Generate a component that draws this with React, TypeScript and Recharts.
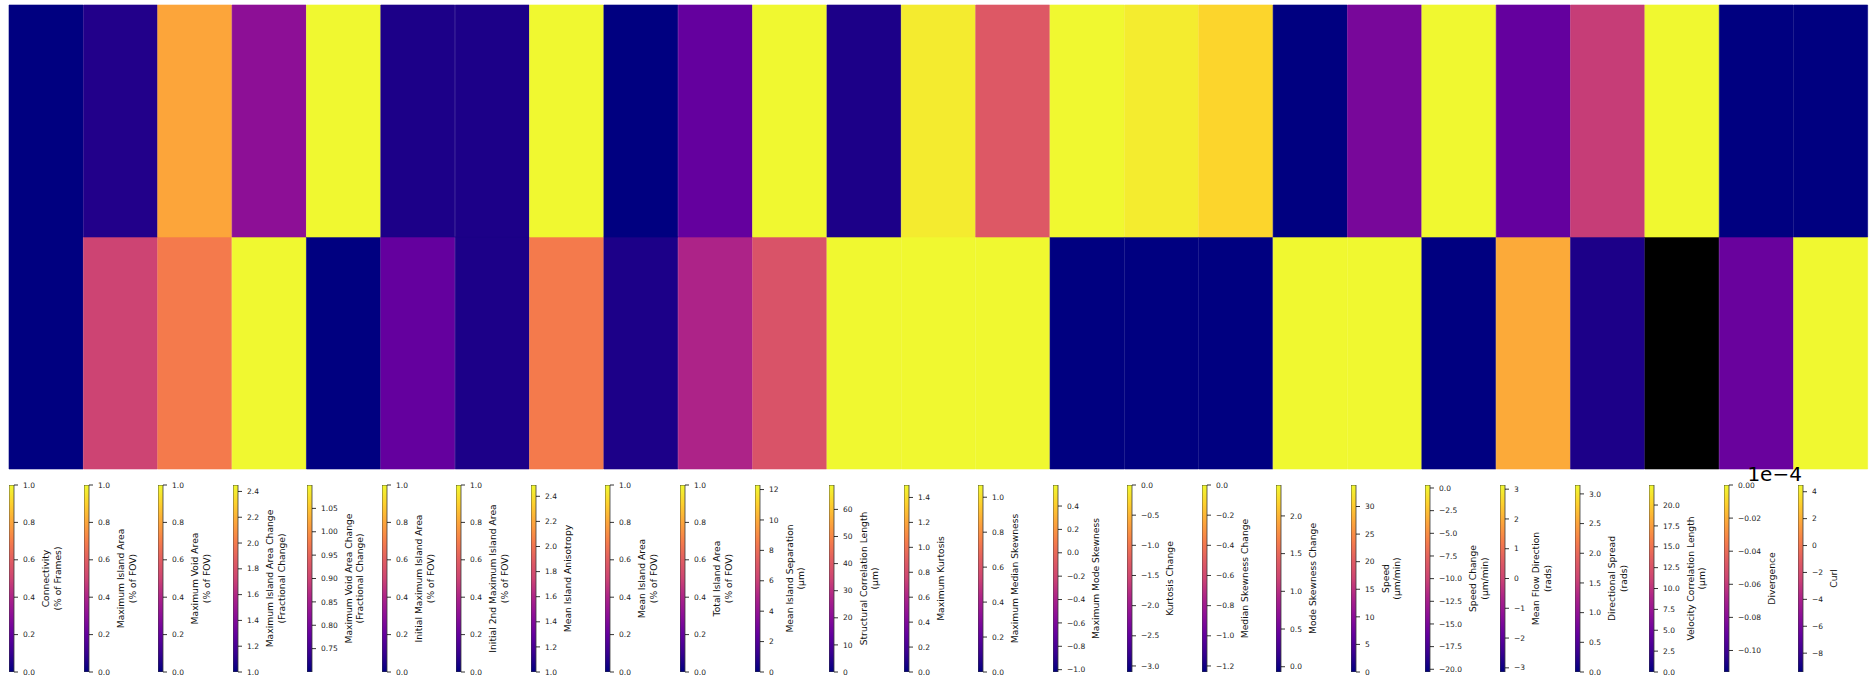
import { BarChart, ComposedChart, Bar, Cell, XAxis, YAxis } from 'recharts';

// Metric names (one column each), "\n" splits the colorbar label in two lines
const metricLabels = [
  'Connectivity\n(% of Frames)',
  'Maximum Island Area\n(% of FOV)',
  'Maximum Void Area\n(% of FOV)',
  'Maximum Island Area Change\n(Fractional Change)',
  'Maximum Void Area Change\n(Fractional Change)',
  'Initial Maximum Island Area\n(% of FOV)',
  'Initial 2nd Maximum Island Area\n(% of FOV)',
  'Mean Island Anisotropy',
  'Mean Island Area\n(% of FOV)',
  'Total Island Area\n(% of FOV)',
  'Mean Island Separation\n(µm)',
  'Structural Correlation Length\n(µm)',
  'Maximum Kurtosis',
  'Maximum Median Skewness',
  'Maximum Mode Skewness',
  'Kurtosis Change',
  'Median Skewness Change',
  'Mode Skewness Change',
  'Speed\n(µm/min)',
  'Speed Change\n(µm/min)',
  'Mean Flow Direction\n(rads)',
  'Directional Spread\n(rads)',
  'Velocity Correlation Length\n(µm)',
  'Divergence',
  'Curl',
];

// colour range of every column (colorbar limits)
const rangeMin = [0, 0, 0, 1.0, 0.70, 0, 0, 1.0, 0, 0, 0, 0, 0, 0, -1.02, -3.1, -1.24, -0.07, 0, -20.3, -3.14, 0, 0, -0.113, -9.4];
const rangeMax = [1, 1, 1, 2.45, 1.10, 1, 1, 2.49, 1, 1, 12.3, 69, 1.5, 1.07, 0.58, 0, 0, 2.41, 33.9, 0.33, 3.14, 3.15, 22.4, 0, 4.5];

// heatmap rows
const topRow = [0.0, 0.06, 0.8, 1.44, 1.10, 0.05, 0.05, 2.49, 0.0, 0.2, 12.3, 3.5, 1.45, 0.62, 0.58, -0.09, -0.11, -0.07, 8.5, 0.33, -1.88, 1.51, 22.4, -0.113, -9.4];
const bottomRow: (number | null)[] = [0.0, 0.5, 0.69, 2.45, 0.70, 0.2, 0.05, 2.03, 0.05, 0.4, 6.9, 69, 1.5, 1.07, -1.02, -3.1, -1.24, 2.41, 33.9, -20.3, 1.95, 0.16, null, -0.089, 4.5];

// colorbar ticks
const unitTicks = [0, 0.2, 0.4, 0.6, 0.8, 1.0];
const tickLists = [
  unitTicks,
  unitTicks,
  unitTicks,
  [1.0, 1.2, 1.4, 1.6, 1.8, 2.0, 2.2, 2.4],
  [0.75, 0.8, 0.85, 0.9, 0.95, 1.0, 1.05],
  unitTicks,
  unitTicks,
  [1.0, 1.2, 1.4, 1.6, 1.8, 2.0, 2.2, 2.4],
  unitTicks,
  unitTicks,
  [0, 2, 4, 6, 8, 10, 12],
  [0, 10, 20, 30, 40, 50, 60],
  [0, 0.2, 0.4, 0.6, 0.8, 1.0, 1.2, 1.4],
  [0, 0.2, 0.4, 0.6, 0.8, 1.0],
  [-1.0, -0.8, -0.6, -0.4, -0.2, 0, 0.2, 0.4],
  [-3.0, -2.5, -2.0, -1.5, -1.0, -0.5, 0],
  [-1.2, -1.0, -0.8, -0.6, -0.4, -0.2, 0],
  [0, 0.5, 1.0, 1.5, 2.0],
  [0, 5, 10, 15, 20, 25, 30],
  [-20, -17.5, -15, -12.5, -10, -7.5, -5, -2.5, 0],
  [-3, -2, -1, 0, 1, 2, 3],
  [0, 0.5, 1.0, 1.5, 2.0, 2.5, 3.0],
  [0, 2.5, 5, 7.5, 10, 12.5, 15, 17.5, 20],
  [-0.1, -0.08, -0.06, -0.04, -0.02, 0],
  [-8, -6, -4, -2, 0, 2, 4],
];
const tickDecimals = [1, 1, 1, 1, 2, 1, 1, 1, 1, 1, 0, 0, 1, 1, 1, 1, 1, 1, 0, 1, 0, 1, 1, 2, 0];
const offsetLabels = ['', '', '', '', '', '', '', '', '', '', '', '', '', '', '', '', '', '', '', '', '', '', '', '1e\u22124', ''];

// colormap (plasma-like, navy at the bottom)
const cmapStops: [number, string][] = [
  [0.0, '#000080'],
  [0.1, '#380090'],
  [0.2, '#64009e'],
  [0.3, '#8c0e97'],
  [0.4, '#ad2388'],
  [0.5, '#cd4473'],
  [0.6, '#e15d61'],
  [0.7, '#f67d4a'],
  [0.8, '#fca53a'],
  [0.9, '#fdd02c'],
  [1.0, '#f0f830'],
];

const hex = (c: string) => [1, 3, 5].map((k) => parseInt(c.slice(k, k + 2), 16));

function colorFor(v: number | null, lo: number, hi: number) {
  if (v === null || Number.isNaN(v)) return '#000000';
  const t = Math.min(1, Math.max(0, (v - lo) / (hi - lo)));
  for (let k = 1; k < cmapStops.length; k++) {
    const [t1, c1] = cmapStops[k];
    if (t <= t1) {
      const [t0, c0] = cmapStops[k - 1];
      const f = (t - t0) / (t1 - t0);
      const a = hex(c0);
      const b = hex(c1);
      const m = a.map((x, j) => Math.round(x + (b[j] - x) * f));
      return `rgb(${m[0]},${m[1]},${m[2]})`;
    }
  }
  return cmapStops[cmapStops.length - 1][1];
}

const FONT = 'DejaVu Sans, sans-serif';
const TICK_FS = 7.5;
const LABEL_FS = 9.2;
const LINE_H = 11.5;
const CB_TOP = 485;
const CB_H = 187;
const CB_PITCH = 74.55;
const CB_W = 84;
const CB_PAD = 32; // room above the bar for the offset text

// rough DejaVu Sans widths for tick strings
const textWidth = (s: string) =>
  s.split('').reduce((w, ch) => w + (ch === '.' ? 0.318 : ch === '\u2212' ? 0.838 : 0.636), 0) * TICK_FS;

function ColorBar({ index }: { index: number }) {
  const lo = rangeMin[index];
  const hi = rangeMax[index];
  const data = [{ name: metricLabels[index], range: [lo, hi] }];
  const fmt = (v: number) => v.toFixed(tickDecimals[index]).replace('-', '\u2212');
  const tickW = Math.max(...tickLists[index].map((t) => textWidth(fmt(t))));
  const lines = metricLabels[index].split('\n');

  const renderLabel = (props: any) => {
    const vb = props.viewBox || { x: 5, y: CB_PAD, height: CB_H };
    const left = vb.x + 9 + tickW + 5;
    const cy = vb.y + vb.height / 2;
    return (
      <g>
        {lines.map((ln, k) => {
          const cx = left + LINE_H * (k + 0.5);
          return (
            <text
              key={k}
              x={cx}
              y={cy}
              transform={`rotate(-90, ${cx}, ${cy})`}
              textAnchor="middle"
              dominantBaseline="central"
              fontSize={LABEL_FS}
              fill="#111"
              fontFamily={FONT}
            >
              {ln}
            </text>
          );
        })}
        {offsetLabels[index] ? (
          <text x={23.4} y={vb.y - 4} fontSize={20} fill="#000" fontFamily={FONT}>
            {offsetLabels[index]}
          </text>
        ) : null}
      </g>
    );
  };

  return (
    <div style={{ position: 'absolute', left: 9 + CB_PITCH * index, top: CB_TOP - CB_PAD }}>
      <ComposedChart
        width={CB_W}
        height={CB_H + CB_PAD + 6}
        data={data}
        margin={{ top: CB_PAD, right: 0, bottom: 6, left: 0 }}
        barCategoryGap={0}
      >
        <defs>
          <linearGradient id={`cb${index}`} x1="0" y1="1" x2="0" y2="0">
            {cmapStops.map(([o, c]) => (
              <stop key={o} offset={o} stopColor={c} />
            ))}
          </linearGradient>
        </defs>
        <XAxis dataKey="name" type="category" hide />
        <YAxis
          orientation="right"
          type="number"
          width={CB_W - 5}
          domain={[lo, hi]}
          allowDataOverflow
          ticks={tickLists[index]}
          interval={0}
          tickFormatter={fmt}
          tickSize={4}
          tickMargin={5}
          axisLine={false}
          tickLine={{ stroke: '#000', strokeWidth: 0.8 }}
          tick={{ fontSize: TICK_FS, fill: '#222', fontFamily: FONT }}
          label={renderLabel}
        />
        <Bar dataKey="range" fill={`url(#cb${index})`} stroke="#3a3a3a" strokeWidth={0.8} isAnimationActive={false} />
      </ComposedChart>
    </div>
  );
}

const heatData = metricLabels.map((name) => ({ name, lower: 1, upper: 1 }));

export default function App() {
  return (
    <div style={{ position: 'absolute', left: 0, top: 0, width: 1874, height: 680, background: '#fff', fontFamily: FONT }}>
      <div style={{ position: 'absolute', left: 0, top: 0 }}>
        <BarChart
          width={1874}
          height={475}
          data={heatData}
          margin={{ top: 5, right: 6, bottom: 6, left: 9 }}
          barCategoryGap={0}
          barGap={0}
        >
          <XAxis dataKey="name" hide />
          <YAxis hide domain={[0, 2]} type="number" />
          <Bar dataKey="lower" stackId="rows" isAnimationActive={false}>
            {bottomRow.map((v, i) => {
              const c = colorFor(v, rangeMin[i], rangeMax[i]);
              return <Cell key={i} fill={c} stroke={c} strokeWidth={0.6} />;
            })}
          </Bar>
          <Bar dataKey="upper" stackId="rows" isAnimationActive={false}>
            {topRow.map((v, i) => {
              const c = colorFor(v, rangeMin[i], rangeMax[i]);
              return <Cell key={i} fill={c} stroke={c} strokeWidth={0.6} />;
            })}
          </Bar>
        </BarChart>
      </div>
      {metricLabels.map((_, i) => (
        <ColorBar key={i} index={i} />
      ))}
    </div>
  );
}
